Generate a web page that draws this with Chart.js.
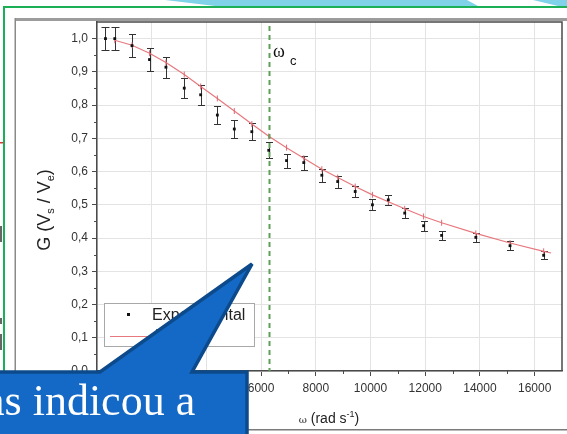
<!DOCTYPE html>
<html>
<head>
<meta charset="utf-8">
<script src="https://cdn.jsdelivr.net/npm/chart.js@4.4.1/dist/chart.umd.min.js"></script>
<style>
  html, body { margin: 0; padding: 0; background: #fff; }
  #wrap { position: relative; width: 567px; height: 434px; overflow: hidden; background: #fff; }
  #wrap canvas, #wrap svg { position: absolute; left: 0; top: 0; }
</style>
</head>
<body>
<div id="wrap">
  <svg width="567" height="434">
    <!-- slide decoration behind the figure -->
    <polygon points="165,0 467,0 478,6 215,6" fill="#80d2e8"/>
    <polygon points="533,0 567,0 567,6 558,6" fill="#80d2e8"/>
    <rect x="3" y="6" width="564" height="2" fill="#1bb056"/>
    <rect x="3" y="6" width="2" height="428" fill="#1bb056"/>
    <rect x="0" y="142" width="3" height="1.5" fill="#d33"/>
    <rect x="0" y="226" width="2" height="16" fill="#666"/>
    <rect x="0" y="318" width="2" height="6" fill="#666"/>
    <rect x="0" y="334" width="2" height="16" fill="#666"/>
    <!-- figure frame -->
    <rect x="15" y="18" width="552" height="3" fill="#9c9c9c"/>
    <rect x="14.5" y="18" width="1.5" height="416" fill="#8a8a8a"/>
    <rect x="15" y="429" width="552" height="1.5" fill="#7a7a7a"/>
  </svg>
  <canvas id="plot" width="567" height="434"></canvas>
  <svg width="567" height="434">
    <text transform="translate(50,210) rotate(-90)" text-anchor="middle"
          font-family="Liberation Sans, Arial, sans-serif" font-size="18" fill="#222">G (V<tspan font-size="11" dy="4">s</tspan><tspan dy="-4"> / V</tspan><tspan font-size="11" dy="4">e</tspan><tspan dy="-4">)</tspan></text>
    <text x="329" y="423" text-anchor="middle" font-family="Liberation Sans, Arial, sans-serif"
          font-size="14" fill="#222"><tspan font-family="DejaVu Serif, serif" font-size="10">ω</tspan> (rad s<tspan font-size="9" dy="-6">-1</tspan><tspan dy="6">)</tspan></text>
    <text x="273" y="57" font-family="Liberation Serif, serif" font-size="18" fill="#111">ω</text>
    <text x="290" y="65" font-family="Liberation Sans, Arial, sans-serif" font-size="13" fill="#111">c</text>
    <!-- speech callout -->
    <path d="M -5 372 L 100 372 L 252 264 L 192 372 L 247 372 L 247 440 L -5 440 Z"
          fill="#1369c5" stroke="#0c4a8b" stroke-width="3.5" stroke-linejoin="miter"/>
    <text x="-15" y="415" font-family="Liberation Serif, serif" font-size="44" fill="#fff">as indicou a</text>
  </svg>
</div>
<script>
// angular frequency (rad/s) and measured gain Vs/Ve with uncertainties
const expOmega = [310, 650, 1280, 1920, 2520, 3190, 3790, 4400, 5020, 5660, 6280, 6930,
                  7560, 8220, 8800, 9440, 10070, 10650, 11250, 11940, 12600, 13850, 15100, 16330];
const expGain = [1.000, 1.000, 0.979, 0.937, 0.914, 0.851, 0.831, 0.770, 0.728, 0.720, 0.664, 0.633,
                 0.627, 0.589, 0.570, 0.540, 0.500, 0.515, 0.475, 0.437, 0.408, 0.402, 0.377, 0.348];
const expErr = [0.034, 0.034, 0.035, 0.035, 0.032, 0.030, 0.030, 0.027, 0.027, 0.025, 0.024, 0.021,
                0.021, 0.020, 0.018, 0.017, 0.017, 0.016, 0.015, 0.015, 0.014, 0.013, 0.013, 0.012];

// fitted curve
const fitOmega = [650, 1280, 1920, 2520, 3190, 3790, 4400, 5020, 5660, 6280, 6930, 7560,
                  8220, 8800, 9440, 10070, 10650, 11250, 11940, 12600, 13850, 15100, 16330, 16600];
const fitGain = [0.995, 0.980, 0.956, 0.928, 0.892, 0.856, 0.820, 0.782, 0.743, 0.706, 0.672, 0.640,
                 0.607, 0.582, 0.555, 0.530, 0.509, 0.488, 0.465, 0.446, 0.414, 0.385, 0.360, 0.355];

const cutoff = 6283;
const xTicks = [0, 2000, 4000, 6000, 8000, 10000, 12000, 14000, 16000];
const yTicks = [0, 0.1, 0.2, 0.3, 0.4, 0.5, 0.6, 0.7, 0.8, 0.9, 1.0];
const legendLabels = ['Experimental', 'Ajuste'];

const AXIS = '#4a4a4a';

const extras = {
  id: 'extras',
  beforeDatasetsDraw(chart) {
    const { ctx, scales: { x, y } } = chart;
    ctx.save();
    ctx.strokeStyle = '#333';
    ctx.lineWidth = 1;
    expOmega.forEach((w, i) => {
      const px = Math.round(x.getPixelForValue(w)) + 0.5;
      const top = Math.round(y.getPixelForValue(expGain[i] + expErr[i])) + 0.5;
      const bot = Math.round(y.getPixelForValue(expGain[i] - expErr[i])) + 0.5;
      const cap = i < 2 ? 4 : 3.5;
      ctx.beginPath();
      ctx.moveTo(px, top); ctx.lineTo(px, bot);
      ctx.moveTo(px - cap, top); ctx.lineTo(px + cap, top);
      ctx.moveTo(px - cap, bot); ctx.lineTo(px + cap, bot);
      ctx.stroke();
    });
    ctx.restore();
  },
  afterDatasetsDraw(chart) {
    const { ctx, chartArea: a, scales: { x, y } } = chart;
    ctx.save();

    // cutoff frequency marker
    const cx = Math.round(x.getPixelForValue(cutoff)) + 0.5;
    ctx.strokeStyle = '#5f9f5a';
    ctx.lineWidth = 2;
    ctx.setLineDash([5, 4]);
    ctx.beginPath();
    ctx.moveTo(cx, a.top + 4);
    ctx.lineTo(cx, a.bottom);
    ctx.stroke();
    ctx.setLineDash([]);

    // minor ticks
    ctx.strokeStyle = AXIS;
    ctx.lineWidth = 1;
    ctx.beginPath();
    for (let i = 0; i < yTicks.length - 1; i++) {
      const py = Math.round(y.getPixelForValue(yTicks[i] + 0.05)) + 0.5;
      ctx.moveTo(a.left - 3, py); ctx.lineTo(a.left, py);
    }
    for (let i = 0; i < xTicks.length; i++) {
      const px = Math.round(x.getPixelForValue(xTicks[i] + 1000)) + 0.5;
      if (px >= a.right) continue;
      ctx.moveTo(px, a.bottom); ctx.lineTo(px, a.bottom + 3);
    }
    ctx.stroke();

    // top and right frame
    ctx.strokeStyle = AXIS;
    ctx.lineWidth = 1.5;
    ctx.beginPath();
    ctx.moveTo(a.left, a.top); ctx.lineTo(a.right, a.top); ctx.lineTo(a.right, a.bottom);
    ctx.stroke();

    // legend box
    const lx = 104, ly = 303, lw = 150, lh = 43;
    ctx.fillStyle = '#fff';
    ctx.fillRect(lx, ly, lw, lh);
    ctx.strokeStyle = '#a8a8a8';
    ctx.lineWidth = 1;
    ctx.strokeRect(lx + 0.5, ly + 0.5, lw, lh);
    const ds = chart.data.datasets;
    ctx.fillStyle = ds[0].backgroundColor;
    ctx.fillRect(127, 313, 3, 3);
    ctx.strokeStyle = ds[1].borderColor;
    ctx.lineWidth = 1;
    ctx.beginPath();
    ctx.moveTo(110, 336.5); ctx.lineTo(148, 336.5);
    ctx.stroke();
    ctx.fillStyle = '#222';
    ctx.font = '16px "Liberation Sans", Arial, sans-serif';
    ctx.textBaseline = 'middle';
    ctx.fillText(legendLabels[0], 152, 316);
    ctx.fillText(legendLabels[1], 152, 337);

    ctx.restore();
  }
};

new Chart(document.getElementById('plot'), {
  type: 'scatter',
  data: {
    datasets: [
      {
        label: legendLabels[0],
        data: expOmega.map((w, i) => ({ x: w, y: expGain[i] })),
        pointStyle: 'rect',
        pointRadius: 2,
        backgroundColor: '#111',
        borderColor: '#111',
        borderWidth: 0,
        showLine: false,
        order: 0
      },
      {
        label: legendLabels[1],
        data: fitOmega.map((w, i) => ({ x: w, y: fitGain[i] })),
        showLine: true,
        borderColor: '#e7787e',
        borderWidth: 1.2,
        pointStyle: 'line',
        pointRotation: 90,
        pointRadius: (c) => (c.dataIndex === fitOmega.length - 1 ? 0 : 3),
        pointBorderColor: '#e06a72',
        pointBorderWidth: 1,
        order: 1
      }
    ]
  },
  options: {
    responsive: false,
    animation: false,
    devicePixelRatio: 1,
    layout: { padding: { left: 0, top: 22, right: 4, bottom: 0 } },
    plugins: { legend: { display: false }, tooltip: { enabled: false } },
    scales: {
      x: {
        type: 'linear',
        min: 0,
        max: 17000,
        afterBuildTicks: (s) => { s.ticks = xTicks.map((v) => ({ value: v })); },
        afterFit: (s) => { s.height = 63; },
        ticks: {
          callback: (v) => String(v),
          font: { family: '"Liberation Sans", Arial, sans-serif', size: 12 },
          color: '#333',
          padding: 5,
          maxRotation: 0,
          autoSkip: false
        },
        grid: { color: '#e3e3e3', tickColor: AXIS, tickLength: 5 },
        border: { color: AXIS, width: 1.5 }
      },
      y: {
        min: 0,
        max: 1.05,
        afterBuildTicks: (s) => { s.ticks = yTicks.map((v) => ({ value: v })); },
        afterFit: (s) => { s.width = 97; },
        ticks: {
          callback: (v) => v.toFixed(1).replace('.', ','),
          font: { family: '"Liberation Sans", Arial, sans-serif', size: 12 },
          color: '#333',
          padding: 4
        },
        grid: { color: '#e3e3e3', tickColor: AXIS, tickLength: 5 },
        border: { color: AXIS, width: 1.5 }
      }
    }
  },
  plugins: [extras]
});
</script>
</body>
</html>
